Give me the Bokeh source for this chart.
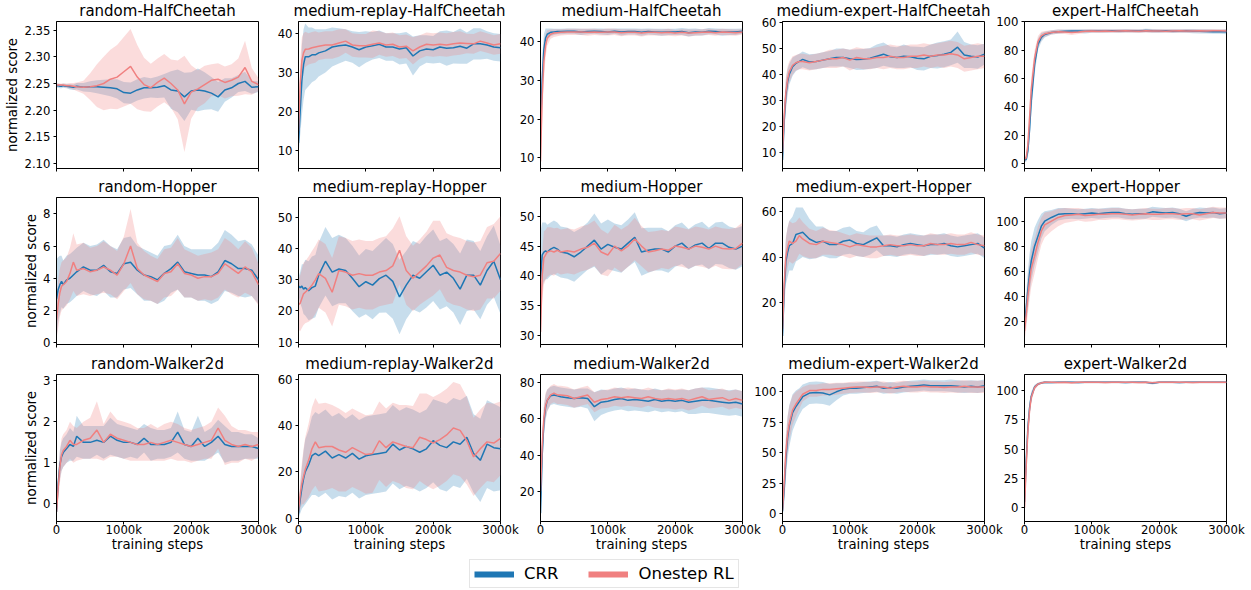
import numpy as np
from bokeh.plotting import figure
from bokeh.layouts import row, column
from bokeh.models import (Range1d, FixedTicker, NumeralTickFormatter, Legend,
                          LegendItem, ColumnDataSource, CustomLabelingPolicy)
from bokeh.embed import file_html
from bokeh.resources import INLINE

FONT = "DejaVu Sans"
BLUE = "#1f77b4"
RED = "#f08080"

# training steps (thousands)
steps_k = [0, 25, 50, 75, 100, 150, 200, 250, 300,
           400, 500, 600, 700, 800, 900, 1000, 1100, 1200,
           1300, 1400, 1500, 1600, 1700, 1800, 1900, 2000, 2100,
           2200, 2300, 2400, 2500, 2600, 2700, 2800, 2900, 3000]
x_ticks = [0, 1000, 2000, 3000]
x_tick_labels = ["0", "1000k", "2000k", "3000k"]
series_names = ["CRR", "Onestep RL"]

# ---------------- HalfCheetah ----------------
hc_random_crr = [2.246, 2.246, 2.245, 2.245, 2.246, 2.245, 2.244, 2.243, 2.245,
                 2.243, 2.244, 2.244, 2.243, 2.242, 2.240, 2.233, 2.232, 2.238,
                 2.242, 2.242, 2.243, 2.246, 2.238, 2.236, 2.225, 2.236, 2.238,
                 2.236, 2.232, 2.225, 2.238, 2.242, 2.250, 2.254, 2.243, 2.244]
hc_random_crr_sd = [0.004, 0.004, 0.004, 0.004, 0.004, 0.004, 0.005, 0.005, 0.006,
                    0.008, 0.010, 0.012, 0.014, 0.016, 0.018, 0.020, 0.020, 0.020,
                    0.020, 0.018, 0.020, 0.022, 0.035, 0.040, 0.045, 0.035, 0.040,
                    0.035, 0.030, 0.028, 0.022, 0.018, 0.016, 0.018, 0.012, 0.010]
hc_random_one = [2.247, 2.247, 2.247, 2.247, 2.247, 2.246, 2.246, 2.245, 2.244,
                 2.243, 2.244, 2.246, 2.250, 2.258, 2.262, 2.272, 2.282, 2.262,
                 2.248, 2.242, 2.252, 2.260, 2.250, 2.238, 2.212, 2.234, 2.240,
                 2.248, 2.256, 2.258, 2.252, 2.256, 2.262, 2.280, 2.254, 2.248]
hc_random_one_sd = [0.003, 0.003, 0.003, 0.003, 0.003, 0.004, 0.005, 0.006, 0.008,
                    0.012, 0.025, 0.040, 0.050, 0.055, 0.060, 0.065, 0.070, 0.060,
                    0.050, 0.045, 0.045, 0.045, 0.045, 0.055, 0.090, 0.050, 0.035,
                    0.035, 0.030, 0.030, 0.030, 0.030, 0.035, 0.050, 0.025, 0.012]

hc_mr_crr = [12.0, 20.0, 28.0, 32.0, 34.0, 34.0, 34.5, 34.5, 35.0,
             35.5, 36.5, 36.8, 37.0, 36.5, 35.8, 36.5, 36.8, 37.2,
             36.5, 36.5, 36.0, 36.3, 34.2, 35.5, 36.0, 35.8, 36.5,
             36.2, 36.3, 36.7, 36.2, 37.3, 37.3, 37.0, 36.5, 36.3]
hc_mr_crr_sd = [3.0, 6.0, 9.0, 9.0, 8.5, 7.5, 7.0, 6.5, 6.0,
                5.5, 5.0, 4.5, 4.0, 4.0, 4.5, 4.0, 3.5, 3.5,
                3.5, 3.5, 4.0, 4.0, 5.0, 4.0, 3.5, 3.5, 4.0,
                4.5, 4.0, 4.5, 4.0, 4.0, 4.0, 3.5, 3.5, 3.5]
hc_mr_one = [15.0, 27.0, 33.0, 35.0, 35.9, 36.0, 36.3, 36.5, 36.7,
             37.0, 37.0, 37.5, 38.0, 37.0, 36.8, 36.8, 37.2, 37.5,
             37.0, 37.2, 36.5, 36.7, 35.5, 36.5, 37.2, 37.0, 37.2,
             37.0, 37.3, 37.5, 37.4, 37.3, 38.0, 37.5, 37.0, 37.3]
hc_mr_one_sd = [4.0, 6.0, 6.0, 5.0, 4.5, 4.0, 4.0, 4.0, 3.5,
                3.5, 3.5, 3.5, 3.0, 3.0, 3.0, 3.0, 3.5, 3.0,
                3.0, 3.0, 3.0, 3.0, 3.5, 3.0, 3.0, 3.0, 3.0,
                3.0, 3.0, 3.0, 2.5, 2.5, 2.5, 2.5, 2.5, 2.5]

hc_m_crr = [18.0, 30.0, 38.0, 41.0, 42.0, 42.5, 42.6, 42.7, 42.7,
            42.8, 42.8, 42.6, 42.7, 42.8, 42.7, 42.6, 42.8, 42.6,
            42.7, 42.7, 42.5, 42.7, 42.6, 42.5, 42.6, 42.6, 42.7,
            42.4, 42.6, 42.5, 42.8, 42.7, 42.5, 42.6, 42.6, 42.8]
hc_m_crr_sd = [5.0, 6.0, 4.0, 2.5, 1.5, 1.0, 0.8, 0.7, 0.7,
               0.7, 0.7, 0.8, 0.7, 0.7, 0.8, 0.8, 0.7, 0.9,
               0.8, 0.8, 0.9, 0.8, 0.8, 0.9, 0.8, 0.8, 0.9,
               1.0, 0.9, 0.8, 0.8, 0.8, 0.9, 0.8, 0.8, 0.7]
hc_m_one = [9.0, 26.0, 35.0, 39.0, 41.0, 42.0, 42.3, 42.4, 42.5,
            42.6, 42.6, 42.6, 42.5, 42.6, 42.5, 42.6, 42.6, 42.4,
            42.5, 42.5, 42.3, 42.5, 42.5, 42.4, 42.5, 42.3, 42.5,
            42.3, 42.4, 42.5, 42.6, 42.4, 42.6, 42.5, 42.4, 42.6]
hc_m_one_sd = [4.0, 6.0, 5.0, 3.0, 2.0, 1.2, 1.0, 0.9, 0.8,
               0.8, 0.8, 0.8, 0.9, 0.8, 0.8, 0.9, 0.8, 0.9,
               0.8, 0.8, 0.9, 0.8, 0.8, 0.8, 0.9, 0.8, 0.8,
               0.9, 0.8, 0.8, 0.8, 0.8, 0.8, 0.8, 0.8, 0.7]

hc_me_crr = [7.0, 22.0, 32.0, 37.0, 40.0, 43.0, 44.3, 45.0, 45.8,
             44.8, 45.0, 45.5, 46.0, 46.5, 46.5, 46.0, 45.7, 45.8,
             46.2, 47.0, 47.8, 46.8, 46.5, 47.0, 46.8, 46.2, 46.0,
             47.0, 47.3, 47.8, 48.5, 50.5, 47.5, 47.0, 46.7, 47.8]
hc_me_crr_sd = [3.0, 5.0, 6.0, 5.0, 4.0, 3.5, 3.0, 3.0, 3.0,
                3.0, 3.0, 3.0, 3.0, 3.5, 3.5, 3.5, 4.0, 4.0,
                4.0, 4.5, 4.5, 4.0, 4.0, 4.5, 4.0, 4.5, 4.5,
                4.5, 5.0, 5.0, 5.0, 6.0, 5.0, 4.5, 4.5, 4.0]
hc_me_one = [10.0, 24.0, 33.0, 38.0, 41.0, 43.5, 44.5, 45.0, 45.0,
             44.5, 45.0, 45.5, 46.0, 46.0, 46.5, 45.5, 46.5, 46.0,
             46.0, 46.5, 46.5, 47.0, 46.5, 46.5, 47.0, 47.0, 47.5,
             47.0, 47.5, 47.5, 48.0, 47.5, 46.0, 46.5, 47.0, 47.0]
hc_me_one_sd = [3.0, 5.0, 6.0, 5.0, 4.0, 3.5, 3.0, 3.0, 3.0,
                3.0, 3.0, 3.0, 3.5, 3.5, 3.5, 4.0, 4.0, 4.0,
                4.0, 4.0, 4.5, 4.5, 4.5, 4.5, 4.5, 4.5, 4.5,
                4.5, 4.5, 5.0, 5.0, 5.0, 5.0, 5.0, 5.0, 4.5]

hc_e_crr = [2.5, 3.0, 9.0, 24.0, 44.0, 70.0, 84.0, 89.0, 91.0,
            92.5, 93.0, 93.3, 93.5, 93.5, 93.3, 93.5, 93.5, 93.5,
            93.6, 93.5, 93.7, 93.6, 93.5, 93.8, 93.6, 93.5, 93.6,
            93.4, 93.5, 93.6, 93.4, 93.3, 93.2, 93.0, 93.0, 93.0]
hc_e_crr_sd = [1.5, 2.0, 5.0, 8.0, 9.0, 7.0, 4.0, 3.0, 2.0,
               1.5, 1.5, 1.3, 1.3, 1.3, 1.5, 1.3, 1.3, 1.2,
               1.2, 1.3, 1.2, 1.2, 1.3, 1.2, 1.3, 1.2, 1.2,
               1.3, 1.2, 1.3, 1.5, 1.5, 1.5, 1.5, 1.5, 1.8]
hc_e_one = [3.0, 4.0, 13.0, 32.0, 52.0, 74.0, 86.0, 90.0, 91.5,
            92.5, 93.0, 92.8, 92.5, 92.8, 93.3, 93.5, 93.3, 93.5,
            93.4, 93.5, 93.6, 93.5, 93.3, 93.6, 93.5, 93.5, 93.4,
            93.5, 93.6, 93.5, 93.5, 93.6, 93.5, 93.7, 93.6, 93.5]
hc_e_one_sd = [1.5, 2.0, 6.0, 9.0, 9.0, 6.0, 4.0, 3.0, 2.0,
               1.5, 1.5, 1.5, 1.8, 1.5, 1.3, 1.3, 1.3, 1.2,
               1.2, 1.2, 1.2, 1.2, 1.3, 1.2, 1.2, 1.2, 1.2,
               1.2, 1.2, 1.2, 1.2, 1.2, 1.2, 1.2, 1.2, 1.2]

# ---------------- Hopper ----------------
hop_random_crr = [2.7, 3.3, 3.6, 3.8, 3.6, 3.9, 4.0, 4.2, 4.4,
                  4.7, 4.5, 4.5, 4.8, 4.4, 4.3, 4.9, 5.0, 4.5,
                  4.2, 4.1, 3.9, 4.3, 4.6, 5.0, 4.4, 4.3, 4.2,
                  4.2, 4.1, 4.4, 5.1, 4.9, 4.6, 4.6, 4.5, 3.9]
hop_random_crr_sd = [2.5, 2.0, 1.8, 1.6, 1.5, 1.5, 1.5, 1.5, 1.5,
                     1.5, 1.5, 1.6, 1.6, 1.6, 1.5, 1.6, 1.6, 1.5,
                     1.6, 1.5, 1.5, 1.7, 1.5, 1.7, 1.6, 1.5, 1.6,
                     1.6, 1.7, 1.8, 1.9, 1.8, 1.7, 1.8, 1.6, 1.5]
hop_random_one = [1.4, 2.4, 3.1, 3.5, 3.6, 3.8, 4.3, 5.0, 4.5,
                  4.6, 4.4, 4.5, 4.7, 4.5, 4.2, 4.9, 6.0, 4.6,
                  4.2, 4.0, 3.8, 4.3, 4.4, 4.9, 4.3, 4.2, 4.0,
                  4.1, 4.1, 4.3, 4.9, 4.6, 4.3, 4.7, 4.4, 3.6]
hop_random_one_sd = [1.2, 1.5, 1.5, 1.5, 1.5, 1.5, 1.6, 1.8, 1.6,
                     1.6, 1.5, 1.5, 1.6, 1.5, 1.5, 1.7, 2.3, 1.6,
                     1.5, 1.4, 1.4, 1.5, 1.5, 1.6, 1.5, 1.4, 1.4,
                     1.4, 1.5, 1.5, 1.6, 1.6, 1.5, 1.6, 1.5, 1.3]

hop_mr_crr = [28.0, 27.5, 28.0, 27.0, 27.5, 26.5, 27.5, 28.0, 31.5,
              36.0, 32.5, 33.5, 33.0, 30.5, 27.8, 29.4, 28.3, 30.4,
              31.5, 29.5, 24.5, 28.3, 31.5, 30.5, 32.6, 34.7, 31.5,
              32.5, 30.5, 27.0, 31.5, 31.5, 28.3, 33.0, 36.0, 30.0]
hop_mr_crr_sd = [3.0, 5.0, 7.0, 8.0, 9.0, 9.5, 10.0, 10.0, 10.5,
                 11.0, 11.0, 11.0, 10.5, 10.5, 10.0, 10.5, 11.0, 11.0,
                 12.0, 12.0, 12.0, 11.0, 11.0, 11.0, 11.5, 11.5, 11.0,
                 11.0, 11.0, 11.5, 11.5, 11.0, 11.0, 11.0, 11.5, 11.0]
hop_mr_one = [22.0, 22.5, 24.0, 25.5, 26.0, 27.0, 28.3, 30.0, 32.0,
              30.5, 26.0, 33.0, 32.5, 31.5, 32.0, 31.5, 31.5, 32.5,
              33.0, 34.5, 39.5, 33.0, 30.5, 32.5, 34.5, 37.0, 38.0,
              34.0, 33.0, 32.5, 31.5, 31.0, 31.5, 35.5, 36.0, 38.5]
hop_mr_one_sd = [8.0, 9.0, 9.5, 10.0, 10.0, 10.5, 11.0, 11.0, 11.0,
                 11.0, 11.0, 11.0, 11.0, 11.0, 11.0, 11.0, 11.0, 11.0,
                 11.0, 12.0, 11.0, 11.0, 10.5, 10.5, 11.0, 12.0, 11.0,
                 11.0, 11.0, 11.0, 11.0, 11.0, 11.0, 11.5, 12.0, 12.0]

hop_m_crr = [39.5, 43.5, 44.0, 44.2, 44.0, 44.5, 44.8, 44.5, 44.0,
             43.8, 43.2, 44.0, 45.0, 46.0, 44.5, 45.3, 44.8, 44.5,
             45.5, 46.5, 44.0, 44.3, 44.5, 44.5, 44.0, 45.0, 45.5,
             44.5, 45.2, 45.5, 44.6, 45.5, 45.5, 44.8, 44.5, 45.0]
hop_m_crr_sd = [8.0, 5.5, 5.0, 4.8, 4.6, 4.5, 4.5, 4.5, 4.3,
                4.3, 4.2, 4.0, 4.0, 4.5, 4.3, 4.2, 4.0, 4.0,
                4.0, 4.2, 4.0, 3.8, 3.6, 3.6, 3.5, 3.5, 3.5,
                3.4, 3.5, 3.6, 3.5, 3.5, 3.6, 3.5, 3.5, 3.4]
hop_m_one = [30.5, 40.0, 43.0, 43.5, 44.0, 44.2, 44.0, 44.3, 44.0,
             44.2, 44.0, 44.5, 44.8, 45.5, 44.0, 43.5, 45.0, 44.2,
             45.0, 46.2, 45.0, 44.0, 44.2, 44.5, 44.3, 45.0, 44.8,
             44.5, 45.0, 44.8, 44.5, 45.0, 44.6, 44.5, 44.6, 45.5]
hop_m_one_sd = [3.0, 4.0, 4.5, 4.2, 4.2, 4.0, 4.0, 3.8, 3.8,
                3.8, 3.8, 3.8, 3.8, 3.8, 3.8, 3.6, 3.6, 3.6,
                3.5, 3.6, 3.4, 3.4, 3.3, 3.2, 3.2, 3.3, 3.3,
                3.3, 3.3, 3.3, 3.3, 3.3, 3.4, 3.4, 3.5, 3.5]

hop_me_crr = [5.0, 25.0, 38.0, 42.0, 45.0, 46.0, 50.0, 50.5, 51.0,
              48.0, 46.5, 47.0, 45.5, 45.5, 47.0, 47.5, 46.0, 45.5,
              47.0, 48.5, 45.0, 45.0, 44.5, 45.5, 46.0, 45.5, 45.0,
              45.5, 45.5, 46.0, 45.0, 44.5, 45.0, 45.5, 46.0, 44.0]
hop_me_crr_sd = [4.0, 8.0, 10.0, 11.0, 11.0, 12.0, 12.0, 11.5, 11.0,
                 9.0, 7.0, 6.5, 6.0, 6.0, 6.0, 6.0, 5.5, 5.5,
                 6.0, 5.5, 4.5, 4.5, 4.5, 4.5, 4.5, 4.5, 4.5,
                 4.5, 4.5, 4.5, 4.5, 4.5, 4.5, 4.5, 4.5, 4.5]
hop_me_one = [8.0, 28.0, 40.0, 44.0, 47.0, 46.0, 47.0, 49.5, 48.0,
              46.0, 45.5, 47.0, 46.5, 46.0, 45.5, 44.5, 45.5, 45.0,
              44.5, 44.5, 45.0, 45.5, 45.0, 45.0, 45.5, 45.0, 45.0,
              46.0, 45.5, 45.5, 46.0, 45.5, 45.5, 46.5, 45.5, 45.0]
hop_me_one_sd = [4.0, 7.0, 9.0, 9.0, 9.0, 9.0, 8.5, 8.0, 7.5,
                 6.5, 6.0, 6.0, 5.5, 5.5, 5.0, 5.0, 5.0, 5.0,
                 5.0, 5.0, 4.5, 4.5, 4.5, 4.5, 4.5, 4.5, 4.5,
                 4.5, 4.5, 4.5, 4.5, 4.5, 4.5, 4.5, 4.5, 4.5]

hop_e_crr = [18.0, 30.0, 45.0, 58.0, 68.0, 80.0, 88.0, 96.0, 100.0,
             103.0, 105.5, 106.0, 106.0, 105.5, 106.0, 106.5, 106.0, 106.5,
             107.0, 107.0, 106.0, 105.5, 106.0, 106.0, 107.5, 107.0, 106.5,
             107.0, 106.0, 104.0, 106.0, 107.0, 106.5, 107.0, 106.0, 106.5]
hop_e_crr_sd = [8.0, 12.0, 15.0, 16.0, 16.0, 15.0, 13.0, 10.0, 8.0,
                6.0, 5.0, 4.5, 4.0, 4.0, 4.0, 4.0, 4.0, 4.0,
                4.0, 4.0, 4.0, 4.0, 4.0, 4.0, 4.0, 4.0, 4.0,
                4.0, 4.0, 4.0, 4.0, 4.0, 4.0, 4.0, 4.0, 4.0]
hop_e_one = [12.0, 25.0, 40.0, 52.0, 62.0, 72.0, 83.0, 92.0, 97.0,
             100.0, 103.0, 104.5, 105.0, 105.5, 104.5, 105.0, 105.5, 105.5,
             106.0, 106.0, 105.5, 105.0, 105.5, 106.0, 105.5, 105.5, 106.0,
             106.0, 105.5, 106.0, 106.0, 105.0, 106.0, 107.0, 106.5, 106.5]
hop_e_one_sd = [8.0, 12.0, 14.0, 15.0, 15.0, 14.0, 13.0, 11.0, 10.0,
                8.0, 7.0, 6.0, 5.5, 5.0, 5.0, 5.0, 4.5, 4.5,
                4.5, 4.5, 4.5, 4.5, 4.5, 4.5, 4.5, 4.5, 4.5,
                4.5, 4.5, 4.5, 4.5, 4.5, 4.5, 4.5, 4.5, 4.5]

# ---------------- Walker2d ----------------
w_random_crr = [-0.2, 0.5, 0.95, 1.15, 1.25, 1.35, 1.45, 1.4, 1.65,
                1.5, 1.5, 1.55, 1.5, 1.65, 1.55, 1.5, 1.5, 1.45,
                1.6, 1.45, 1.45, 1.45, 1.5, 1.75, 1.45, 1.4, 1.6,
                1.4, 1.5, 1.65, 1.45, 1.4, 1.4, 1.4, 1.4, 1.35]
w_random_crr_sd = [0.1, 0.25, 0.35, 0.35, 0.35, 0.35, 0.4, 0.35, 0.5,
                   0.4, 0.4, 0.35, 0.4, 0.45, 0.4, 0.4, 0.35, 0.35,
                   0.35, 0.4, 0.35, 0.35, 0.35, 0.5, 0.35, 0.35, 0.55,
                   0.35, 0.35, 0.4, 0.45, 0.35, 0.35, 0.3, 0.3, 0.25]
w_random_one = [-0.2, 0.4, 0.9, 1.2, 1.3, 1.4, 1.55, 1.45, 1.45,
                1.55, 1.6, 1.8, 1.5, 1.7, 1.6, 1.55, 1.5, 1.45,
                1.45, 1.5, 1.45, 1.5, 1.55, 1.5, 1.45, 1.4, 1.45,
                1.5, 1.55, 1.85, 1.55, 1.45, 1.4, 1.45, 1.4, 1.45]
w_random_one_sd = [0.1, 0.3, 0.4, 0.4, 0.4, 0.4, 0.45, 0.45, 0.4,
                   0.45, 0.5, 0.7, 0.45, 0.55, 0.45, 0.45, 0.45, 0.4,
                   0.4, 0.45, 0.4, 0.45, 0.45, 0.45, 0.4, 0.4, 0.4,
                   0.4, 0.45, 0.5, 0.6, 0.45, 0.4, 0.35, 0.35, 0.3]

w_mr_crr = [2.0, 8.0, 13.0, 17.0, 20.0, 23.0, 27.0, 28.0, 27.0,
            29.0, 26.0, 27.5, 26.0, 28.0, 25.5, 27.0, 27.5, 28.0,
            28.5, 32.0, 29.5, 31.0, 30.0, 28.5, 30.0, 33.5, 31.5,
            30.5, 33.0, 32.0, 35.0, 28.0, 25.0, 32.0, 30.5, 30.0]
w_mr_crr_sd = [2.0, 6.0, 9.0, 12.0, 14.0, 15.0, 17.0, 18.0, 18.0,
               18.0, 18.0, 18.0, 17.0, 17.0, 17.0, 17.0, 17.0, 17.0,
               17.0, 17.0, 17.0, 17.0, 17.0, 17.0, 17.0, 18.0, 19.0,
               19.0, 19.0, 19.0, 18.0, 17.0, 18.0, 19.0, 19.0, 18.0]
w_mr_one = [3.0, 10.0, 15.0, 18.0, 21.0, 25.0, 30.0, 33.0, 30.5,
            31.0, 31.0, 29.5, 28.5, 30.5, 29.0, 27.5, 28.0, 33.5,
            30.5, 33.0, 32.0, 31.0, 30.5, 35.0, 34.0, 32.5, 34.0,
            36.0, 39.0, 38.0, 33.5, 26.5, 30.0, 33.0, 32.5, 34.5]
w_mr_one_sd = [2.0, 6.0, 9.0, 12.0, 14.0, 16.0, 18.0, 19.0, 19.0,
               19.0, 18.0, 18.0, 17.0, 17.0, 17.0, 17.0, 17.0, 17.0,
               17.0, 17.0, 17.0, 18.0, 18.0, 19.0, 20.0, 20.0, 20.0,
               20.0, 20.0, 20.0, 19.0, 17.0, 17.0, 17.0, 17.0, 16.0]

w_m_crr = [8.0, 40.0, 58.0, 66.0, 70.0, 72.5, 73.0, 72.5, 72.0,
           71.5, 71.0, 71.5, 71.0, 66.5, 69.0, 69.5, 70.5, 71.0,
           70.0, 70.5, 70.0, 69.5, 70.5, 69.5, 70.0, 69.5, 70.0,
           69.0, 69.5, 70.0, 70.0, 69.5, 69.0, 68.5, 69.0, 68.0]
w_m_crr_sd = [4.0, 8.0, 8.0, 7.0, 6.0, 5.0, 5.0, 5.0, 5.0,
              5.0, 5.0, 5.0, 5.5, 8.0, 7.0, 6.0, 6.0, 6.0,
              6.0, 6.0, 6.0, 6.0, 6.0, 6.0, 6.0, 6.0, 6.0,
              6.5, 7.0, 7.0, 7.0, 7.0, 7.0, 7.0, 7.0, 7.0]
w_m_one = [20.0, 45.0, 60.0, 67.0, 70.0, 73.0, 74.0, 73.0, 73.0,
           72.5, 71.0, 72.0, 73.0, 69.0, 70.5, 71.0, 72.0, 71.5,
           72.0, 71.5, 71.0, 72.0, 71.0, 70.5, 71.0, 70.5, 71.0,
           70.0, 71.0, 72.0, 70.5, 71.0, 71.5, 70.0, 71.0, 70.0]
w_m_one_sd = [4.0, 8.0, 8.0, 7.0, 6.0, 5.0, 5.0, 5.0, 5.0,
              5.0, 5.0, 5.0, 5.0, 5.5, 5.0, 5.0, 5.0, 5.0,
              5.0, 5.0, 5.0, 5.0, 5.0, 5.0, 5.5, 5.5, 5.5,
              5.5, 5.5, 5.0, 5.0, 5.0, 5.0, 5.0, 5.0, 5.0]

w_me_crr = [2.0, 20.0, 45.0, 62.0, 72.0, 83.0, 88.0, 92.0, 96.0,
            99.0, 99.5, 99.0, 97.5, 100.0, 102.0, 103.0, 103.0, 103.5,
            104.0, 104.5, 103.0, 103.5, 103.0, 104.0, 104.5, 105.0, 105.5,
            105.0, 105.0, 105.0, 105.0, 104.5, 104.0, 104.5, 104.0, 105.0]
w_me_crr_sd = [3.0, 12.0, 16.0, 17.0, 17.0, 15.0, 13.0, 11.0, 10.0,
               9.0, 9.0, 9.0, 9.0, 7.0, 5.0, 4.5, 4.5, 4.5,
               4.5, 4.5, 4.5, 4.5, 4.5, 4.5, 4.5, 4.5, 4.5,
               4.5, 4.5, 4.5, 5.0, 5.0, 5.0, 5.0, 5.0, 5.0]
w_me_one = [3.0, 25.0, 50.0, 65.0, 74.0, 85.0, 90.0, 94.0, 98.0,
            101.0, 101.0, 102.0, 102.0, 102.5, 103.0, 103.5, 104.0, 104.0,
            103.5, 104.0, 104.0, 103.0, 104.0, 104.5, 104.0, 104.0, 104.5,
            104.0, 104.0, 103.5, 104.0, 104.0, 104.5, 104.0, 104.0, 104.0]
w_me_one_sd = [3.0, 12.0, 15.0, 15.0, 14.0, 12.0, 10.0, 8.0, 6.0,
               5.0, 5.0, 5.0, 5.0, 5.0, 4.5, 4.5, 4.5, 4.5,
               4.5, 4.5, 4.5, 4.5, 4.5, 4.5, 4.5, 4.5, 4.5,
               4.5, 4.5, 4.5, 4.5, 5.0, 5.0, 5.0, 5.0, 5.0]

w_e_crr = [5.0, 40.0, 68.0, 85.0, 95.0, 103.0, 105.5, 106.5, 107.0,
           106.8, 107.0, 107.1, 107.0, 106.9, 107.0, 107.1, 107.0, 107.0,
           107.1, 107.0, 106.9, 107.0, 107.1, 107.0, 106.3, 107.0, 107.1,
           107.0, 106.9, 107.0, 107.0, 107.1, 107.0, 107.0, 107.1, 107.0]
w_e_crr_sd = [10.0, 10.0, 8.0, 6.0, 4.0, 2.0, 1.2, 1.0, 1.0,
              0.8, 0.8, 0.8, 0.8, 0.8, 0.8, 0.8, 0.8, 0.8,
              0.8, 0.8, 0.8, 0.8, 0.8, 0.8, 1.2, 0.8, 0.8,
              0.8, 0.8, 0.8, 0.8, 0.8, 0.8, 0.8, 0.8, 0.8]
w_e_one = [0.0, 35.0, 65.0, 83.0, 94.0, 102.5, 105.5, 106.5, 107.0,
           107.0, 106.9, 107.0, 106.6, 107.0, 107.1, 107.0, 107.0, 106.9,
           107.0, 107.1, 107.0, 107.0, 106.9, 107.0, 106.6, 107.0, 107.0,
           107.1, 107.0, 107.0, 106.9, 107.0, 107.0, 107.1, 107.0, 107.0]
w_e_one_sd = [10.0, 10.0, 8.0, 6.0, 4.0, 2.0, 1.2, 1.0, 1.0,
              0.8, 0.8, 0.8, 1.0, 0.8, 0.8, 0.8, 0.8, 0.8,
              0.8, 0.8, 0.8, 0.8, 0.8, 0.8, 1.0, 0.8, 0.8,
              0.8, 0.8, 0.8, 0.8, 0.8, 0.8, 0.8, 0.8, 0.8]

titles = ["random-HalfCheetah", "medium-replay-HalfCheetah", "medium-HalfCheetah",
          "medium-expert-HalfCheetah", "expert-HalfCheetah",
          "random-Hopper", "medium-replay-Hopper", "medium-Hopper",
          "medium-expert-Hopper", "expert-Hopper",
          "random-Walker2d", "medium-replay-Walker2d", "medium-Walker2d",
          "medium-expert-Walker2d", "expert-Walker2d"]

y_ticks = [[2.10, 2.15, 2.20, 2.25, 2.30, 2.35], [10, 20, 30, 40], [10, 20, 30, 40],
           [10, 20, 30, 40, 50, 60], [0, 20, 40, 60, 80, 100],
           [0, 2, 4, 6, 8], [10, 20, 30, 40, 50], [30, 35, 40, 45, 50],
           [20, 40, 60], [20, 40, 60, 80, 100],
           [0, 1, 2, 3], [0, 20, 40, 60], [20, 40, 60, 80],
           [0, 25, 50, 75, 100], [0, 25, 50, 75, 100]]

panel_data = [
    (hc_random_crr, hc_random_crr_sd, hc_random_one, hc_random_one_sd),
    (hc_mr_crr, hc_mr_crr_sd, hc_mr_one, hc_mr_one_sd),
    (hc_m_crr, hc_m_crr_sd, hc_m_one, hc_m_one_sd),
    (hc_me_crr, hc_me_crr_sd, hc_me_one, hc_me_one_sd),
    (hc_e_crr, hc_e_crr_sd, hc_e_one, hc_e_one_sd),
    (hop_random_crr, hop_random_crr_sd, hop_random_one, hop_random_one_sd),
    (hop_mr_crr, hop_mr_crr_sd, hop_mr_one, hop_mr_one_sd),
    (hop_m_crr, hop_m_crr_sd, hop_m_one, hop_m_one_sd),
    (hop_me_crr, hop_me_crr_sd, hop_me_one, hop_me_one_sd),
    (hop_e_crr, hop_e_crr_sd, hop_e_one, hop_e_one_sd),
    (w_random_crr, w_random_crr_sd, w_random_one, w_random_one_sd),
    (w_mr_crr, w_mr_crr_sd, w_mr_one, w_mr_one_sd),
    (w_m_crr, w_m_crr_sd, w_m_one, w_m_one_sd),
    (w_me_crr, w_me_crr_sd, w_me_one, w_me_one_sd),
    (w_e_crr, w_e_crr_sd, w_e_one, w_e_one_sd),
]

# axis view limits (visible y extent of each panel)
y_limits = [(2.091, 2.366), (5.5, 43.0), (7.2, 45.3), (3.7, 60.4), (-3.5, 100.2),
            (-0.12, 9.02), (9.2, 56.5), (28.4, 53.2), (1.2, 66.4), (1.2, 119.0),
            (-0.43, 3.155), (-1.5, 62.2), (3.5, 84.2), (-6.3, 114.2), (-11.7, 113.7)]

FRAME_W, FRAME_H = 202, 147
OVERLAP = 22
TOP = 28          # border above each frame (title lives here)
ROW_SHIFT = -7    # rows are pulled up so the frames sit where the reference has them

# labeling policy that keeps no tick label (rows without x tick labels)
no_labels = CustomLabelingPolicy(code="""
for (let i = 0; i < indices.size; i++) { indices.unset(i) }
return indices
""")


def style_axis(ax, show_labels):
    ax.axis_line_color = "black"
    ax.axis_line_width = 1
    ax.major_tick_line_color = "black"
    ax.major_tick_out = 3
    ax.major_tick_in = 0
    ax.minor_tick_line_color = None
    ax.major_label_text_font = FONT
    ax.major_label_text_color = "black"
    ax.major_label_text_font_size = "11.7px"
    if show_labels:
        ax.major_label_standoff = -2
    else:
        ax.major_label_policy = no_labels
        ax.major_label_standoff = -14
    ax.axis_label_text_font = FONT
    ax.axis_label_text_font_size = "13.3px"
    ax.axis_label_text_font_style = "normal"
    ax.axis_label_text_color = "black"
    ax.axis_label_standoff = -3


def make_panel(i):
    r, c = divmod(i, 5)
    crr, crr_sd, one, one_sd = panel_data[i]
    for arr in (crr, crr_sd, one, one_sd):
        if len(arr) != len(steps_k):
            raise ValueError(f"panel {titles[i]} has {len(arr)} values")
    crr_a, crr_s = np.array(crr), np.array(crr_sd)
    one_a, one_s = np.array(one), np.array(one_sd)
    src = ColumnDataSource(dict(x=steps_k, crr=crr, one=one,
                                crr_lo=crr_a - crr_s, crr_hi=crr_a + crr_s,
                                one_lo=one_a - one_s, one_hi=one_a + one_s))
    p = figure(frame_width=FRAME_W, frame_height=FRAME_H,
               x_range=Range1d(0, 3000), y_range=Range1d(*y_limits[i]),
               output_backend="svg", toolbar_location=None,
               min_border_left=56 if c == 0 else 40,
               min_border_right=22,
               min_border_top=TOP,
               min_border_bottom=36 if r == 2 else (8 if r == 0 else 9),
               title=titles[i])
    if c > 0:
        p.margin = (0, 0, 0, -OVERLAP)
    p.title.align = "center"
    p.title.text_font = FONT
    p.title.text_font_size = "15px"
    p.title.text_font_style = "normal"
    p.title.text_color = "black"
    p.title.standoff = 3
    p.xgrid.visible = False
    p.ygrid.visible = False
    p.outline_line_color = "black"
    p.outline_line_width = 1
    p.outline_line_alpha = 1
    p.background_fill_color = "white"
    p.border_fill_alpha = 0

    p.xaxis.ticker = FixedTicker(ticks=x_ticks)
    p.xaxis.major_label_overrides = dict(zip(x_ticks, x_tick_labels))
    p.yaxis.ticker = FixedTicker(ticks=y_ticks[i])
    if i == 0:
        p.yaxis.formatter = NumeralTickFormatter(format="0.00")
    style_axis(p.xaxis[0], r == 2)
    style_axis(p.yaxis[0], True)
    p.yaxis.major_label_standoff = 3
    p.yaxis.axis_label_standoff = 1
    if c == 0:
        p.yaxis.axis_label = "normalized score"
    if r == 2:
        p.xaxis.axis_label = "training steps"

    p.varea(x="x", y1="crr_lo", y2="crr_hi", source=src, fill_color=BLUE, fill_alpha=0.25)
    p.varea(x="x", y1="one_lo", y2="one_hi", source=src, fill_color=RED, fill_alpha=0.28)
    p.line(x="x", y="crr", source=src, line_color=BLUE, line_width=1.5)
    p.line(x="x", y="one", source=src, line_color=RED, line_width=1.5)
    return p


figs = [make_panel(i) for i in range(15)]
rows = [row(*figs[k * 5:(k + 1) * 5], margin=(ROW_SHIFT, 0, 0, 0)) for k in range(3)]

# legend strip below the grid (its two line renderers lie outside the view)
lf = figure(width=1248, height=32, output_backend="svg", toolbar_location=None,
            x_range=Range1d(0, 1), y_range=Range1d(0, 1), min_border=0,
            x_axis_location=None, y_axis_location=None)
lf.grid.visible = False
lf.outline_line_color = None
lf.border_fill_alpha = 0
lf.background_fill_alpha = 0
r_crr = lf.line(x=[5, 6], y=[5, 5], line_color=BLUE, line_width=6)
r_one = lf.line(x=[5, 6], y=[5, 5], line_color=RED, line_width=6)
legend = Legend(items=[LegendItem(label=series_names[0], renderers=[r_crr]),
                       LegendItem(label=series_names[1], renderers=[r_one])],
                orientation="horizontal", location=(469, 1), margin=0,
                padding=4, spacing=30, label_standoff=10,
                glyph_width=40, glyph_height=18, label_height=18,
                label_text_font=FONT, label_text_font_size="16.5px",
                label_text_color="black",
                border_line_color="#cccccc", border_line_width=1,
                background_fill_color="white", background_fill_alpha=1)
lf.add_layout(legend)

layout = column(*rows, lf)

with open("out.html", "w") as f:
    f.write(file_html(layout, INLINE))
